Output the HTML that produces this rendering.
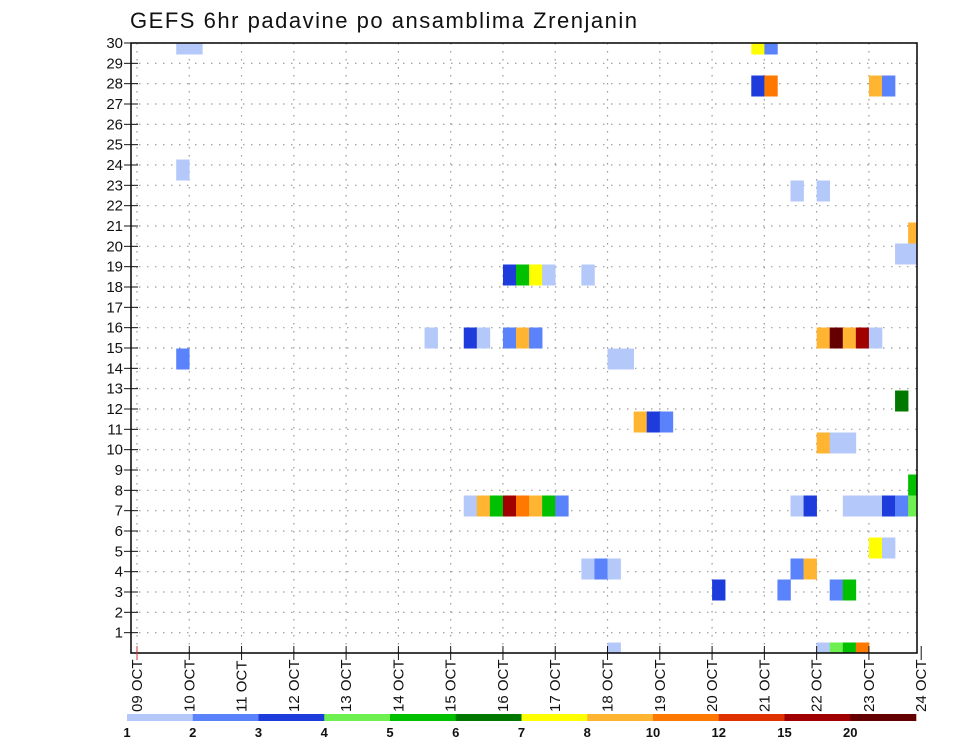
<!DOCTYPE html>
<html><head><meta charset="utf-8">
<style>
body{margin:0;background:#fff;}
svg{display:block;font-family:"Liberation Sans",sans-serif;}
</style></head>
<body>
<svg id="c" width="960" height="742" viewBox="0 0 960 742" xmlns="http://www.w3.org/2000/svg">
<text x="130" y="28" font-size="22" fill="#111" textLength="507">GEFS 6hr padavine po ansamblima Zrenjanin</text>
<g id="grid"></g>
<g id="cells"></g>
<rect x="131" y="43" width="786" height="610" fill="none" stroke="#111" stroke-width="1.6"/>
<g id="axes"></g>
<g id="cbar"></g>
</svg>
<script>
// data
const dayLabels=["09","10","11","12","13","14","15","16","17","18","19","20","21","22","23","24"];
const yTicks=[1,2,3,4,5,6,7,8,9,10,11,12,13,14,15,16,17,18,19,20,21,22,23,24,25,26,27,28,29,30];
const levels=[1,2,3,4,5,6,7,8,10,12,15,20];
const levelColors=["#b4c8fa","#5a82fa","#1e3cdc","#6ef050","#00c000","#007800","#ffff00","#ffb432","#ff7800","#e03200","#a00000","#640000"];
// member row (0 = top), 6h step index from 09 OCT 00Z, precipitation value
const cellMember=[
 0,0,0,0,
 2,2,2,2,
 6,
 7,7,
 9,
 10,10,
 11,11,11,11,11,
 14,14,14,14,14,14,14,14,14,14,14,
 15,15,15,
 17,
 18,18,18,
 19,19,19,
 21,
 22,22,22,22,22,22,22,22,22,22,22,22,22,22,22,22,
 24,24,
 25,25,25,25,25,
 26,26,26,26,
 29,29,29,29,29];
const cellStep=[
 3,4,47,48,
 47,48,56,57,
 3,
 50,52,
 59,
 58,59,
 28,29,30,31,34,
 22,25,26,28,29,30,52,53,54,55,56,
 3,36,37,
 58,
 38,39,40,
 52,53,54,
 59,
 25,26,27,28,29,30,31,32,50,51,54,55,56,57,58,59,
 56,57,
 34,35,36,50,51,
 44,49,53,54,
 36,52,53,54,55];
const cellValue=[
 1.5,1.5,7.5,2.5,
 3.5,11,9,2.5,
 1.5,
 1.5,1.5,
 9,
 1.5,1.5,
 3.5,5.5,7.5,1.5,1.5,
 1.5,3.5,1.5,2.5,9,2.5,9,22,9,17,1.5,
 2.5,1.5,1.5,
 6.5,
 9,3.5,2.5,
 9,1.5,1.5,
 5.5,
 1.5,9,5.5,17,11,9,5.5,2.5,1.5,3.5,1.5,1.5,1.5,3.5,2.5,4.5,
 7.5,1.5,
 1.5,2.5,1.5,2.5,9,
 3.5,2.5,2.5,5.5,
 1.5,1.5,4.5,5.5,11];
</script>
<script>
const NS="http://www.w3.org/2000/svg";
const L=131,R=917,T=43,B=653;
const x0=137,dx=13.07;
function xStep(k){return x0+dx*k;}
function xDay(d){return x0+dx*4*d;}
function yVal(v){return B-v*(B-T)/30;}
function yRow(m){return 44+21*m;}
function colorFor(v){let c=null;for(let i=0;i<levels.length;i++){if(v>=levels[i])c=levelColors[i];}return c;}
function mk(tag,attrs,parent){const e=document.createElementNS(NS,tag);for(const k in attrs)e.setAttribute(k,attrs[k]);parent.appendChild(e);return e;}
const grid=document.getElementById('grid'),cells=document.getElementById('cells'),axes=document.getElementById('axes'),cbar=document.getElementById('cbar');
const defs=mk('defs',{},document.getElementById('c'));
const cp=mk('clipPath',{id:'pc'},defs);mk('rect',{x:L,y:T,width:R-L,height:B-T},cp);
cells.setAttribute('clip-path','url(#pc)');
yTicks.forEach(v=>{
  const gl=mk('line',{x1:L,x2:R,y1:yVal(v),y2:yVal(v),stroke:'#999','stroke-dasharray':'1.5 6.5','stroke-width':1.2},grid);
  
  
  const tk=mk('line',{x1:L-7,x2:L+7,y1:yVal(v),y2:yVal(v),stroke:'#111','stroke-width':1},axes);
  
  
  const t=mk('text',{x:L-8,y:yVal(v)+5,'font-size':15,'text-anchor':'end',fill:'#111'},axes);
  t.textContent=v;
  
  
});
dayLabels.forEach((d,i)=>{
  const x=xDay(i);
  if(x<R-1){
    const gl=mk('line',{x1:x,x2:x,y1:T,y2:B,stroke:'#999','stroke-dasharray':'1.5 6.5','stroke-width':1.2},grid);
    
    
  }
  const tk=mk('line',{x1:x,x2:x,y1:B-7,y2:B+7,stroke:i==0?'#c33':'#111','stroke-width':1},axes);
  
  
  const t=mk('text',{x:0,y:0,'font-size':15,fill:'#111',transform:`translate(${x+5},${712}) rotate(-90)`},axes);
  t.textContent=d+" OCT";
  
  
});
for(let i=0;i<cellValue.length;i++){
  const r=mk('rect',{x:xStep(cellStep[i]),y:yRow(cellMember[i])-10.5,width:dx+0.3,height:21,fill:colorFor(cellValue[i])},cells);
  
  
}
const cbL=127,cbR=916,sw=(cbR-cbL)/levels.length;
levels.forEach((lv,i)=>{
  const r=mk('rect',{x:cbL+i*sw,y:714,width:sw+0.3,height:7,fill:levelColors[i]},cbar);
  
  
  const t=mk('text',{x:cbL+i*sw,y:737,'font-size':13,'font-weight':'bold','text-anchor':'middle',fill:'#111'},cbar);
  t.textContent=lv;
  
  
});
</script>
</body></html>
